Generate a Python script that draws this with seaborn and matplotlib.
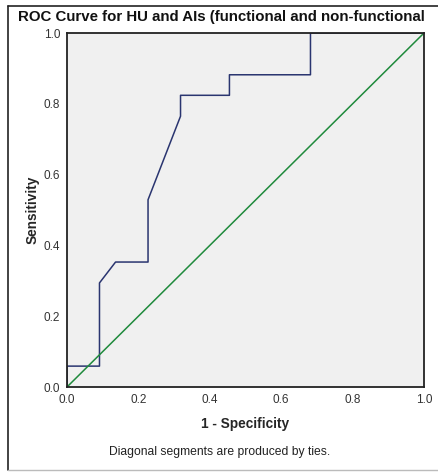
import numpy as np
import pandas as pd
import matplotlib
matplotlib.use('Agg')
import matplotlib.pyplot as plt
import seaborn as sns
from matplotlib.lines import Line2D

# ROC step points (1 - specificity, sensitivity)
fpr = [0.0, 0.0, 0.091, 0.091, 0.136, 0.227, 0.227, 0.318, 0.318, 0.455, 0.455, 0.682, 0.682, 1.0]
tpr = [0.0, 0.059, 0.059, 0.294, 0.353, 0.353, 0.529, 0.765, 0.824, 0.824, 0.882, 0.882, 1.0, 1.0]
ref_line = [0.0, 1.0]
ticks = [0.0, 0.2, 0.4, 0.6, 0.8, 1.0]
tick_labels = ['0.0', '0.2', '0.4', '0.6', '0.8', '1.0']

sns.set_style('white')
plt.rcParams['font.family'] = ['Liberation Sans', 'DejaVu Sans']

fig = plt.figure(figsize=(4.39, 4.72), dpi=100)
ax = fig.add_axes([67 / 439, 85 / 472, 357 / 439, 354 / 472])
ax.set_facecolor('#f0f0f0')

roc = pd.DataFrame({'fpr': fpr, 'tpr': tpr})
sns.lineplot(data=roc, x='fpr', y='tpr', sort=False, estimator=None,
             color='#2a3570', linewidth=1.1, ax=ax)
diag = pd.DataFrame({'x': ref_line, 'y': ref_line})
sns.lineplot(data=diag, x='x', y='y', color='#1f8a3c', linewidth=1.1, ax=ax)

ax.set_xlim(0, 1)
ax.set_ylim(0, 1)
ax.set_xticks(ticks)
ax.set_xticklabels(tick_labels)
ax.set_yticks(ticks)
ax.set_yticklabels(tick_labels)
ax.tick_params(axis='both', direction='out', length=4, width=1, color='#222222',
               labelsize=8.5, labelcolor='#333333', pad=1)
for s in ax.spines.values():
    s.set_color('#222222')
    s.set_linewidth(1.3)

ax.set_xlabel('1 - Specificity', fontsize=9.8, fontweight='bold', labelpad=8)
ax.set_ylabel('Sensitivity', fontsize=9.8, fontweight='bold', labelpad=3)

fig.text(18 / 439, 1 - 17 / 472, 'ROC Curve for HU and AIs (functional and non-functional',
         fontsize=10.8, fontweight='bold', ha='left', va='center', color='#111111')
fig.text(220 / 439, 1 - 452 / 472, 'Diagonal segments are produced by ties.',
         fontsize=8.7, ha='center', va='center', color='#222222')

# outer frame
fig.add_artist(Line2D([8 / 439, 8 / 439], [1 - 6 / 472, 1 - 470 / 472], transform=fig.transFigure,
                      color='#222222', linewidth=1.2))
fig.add_artist(Line2D([8 / 439, 1.0], [1 - 6 / 472, 1 - 6 / 472], transform=fig.transFigure,
                      color='#222222', linewidth=1.2))
fig.add_artist(Line2D([8 / 439, 1.0], [1 - 470 / 472, 1 - 470 / 472], transform=fig.transFigure,
                      color='#bbbbbb', linewidth=1.0))

fig.savefig('out.png', dpi=100)
